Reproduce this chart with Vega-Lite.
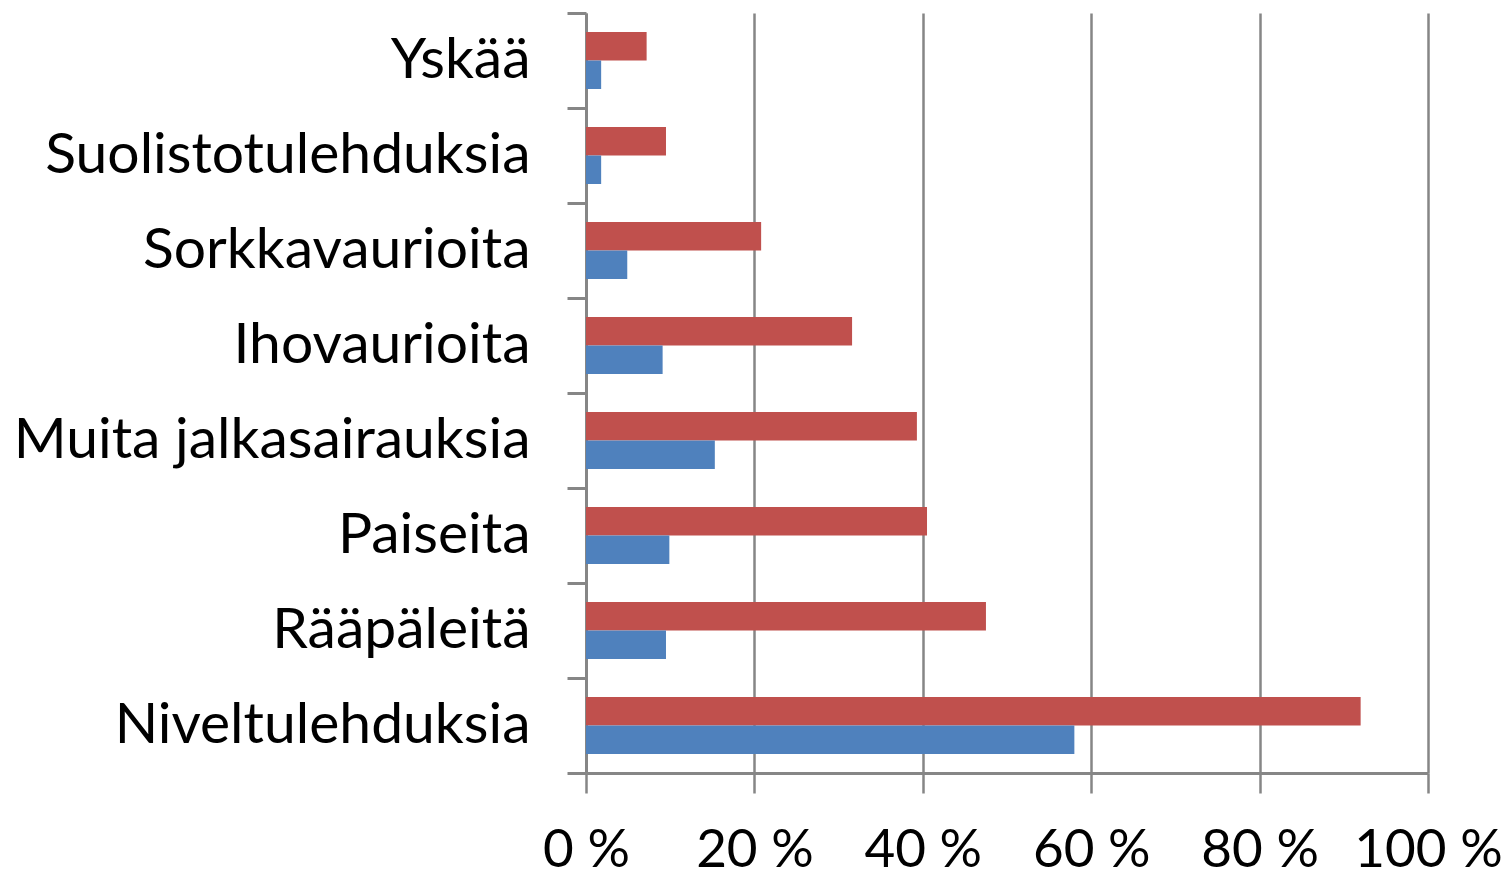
{
  "$schema": "https://vega.github.io/schema/vega-lite/v6.json",
  "width": 842,
  "height": 760,
  "autosize": {"type": "none"},
  "padding": {"left": 586, "top": 13, "right": 80, "bottom": 105},
  "background": "white",
  "config": {"view": {"stroke": null}, "font": "Lato"},
  "data": {
    "values": [
      {"kategoria": "Yskää", "sarja": "sarja 1", "arvo": 7.2},
      {"kategoria": "Yskää", "sarja": "sarja 2", "arvo": 1.8},
      {"kategoria": "Suolistotulehduksia", "sarja": "sarja 1", "arvo": 9.5},
      {"kategoria": "Suolistotulehduksia", "sarja": "sarja 2", "arvo": 1.8},
      {"kategoria": "Sorkkavaurioita", "sarja": "sarja 1", "arvo": 20.8},
      {"kategoria": "Sorkkavaurioita", "sarja": "sarja 2", "arvo": 4.9},
      {"kategoria": "Ihovaurioita", "sarja": "sarja 1", "arvo": 31.6},
      {"kategoria": "Ihovaurioita", "sarja": "sarja 2", "arvo": 9.1},
      {"kategoria": "Muita jalkasairauksia", "sarja": "sarja 1", "arvo": 39.3},
      {"kategoria": "Muita jalkasairauksia", "sarja": "sarja 2", "arvo": 15.3},
      {"kategoria": "Paiseita", "sarja": "sarja 1", "arvo": 40.5},
      {"kategoria": "Paiseita", "sarja": "sarja 2", "arvo": 9.9},
      {"kategoria": "Rääpäleitä", "sarja": "sarja 1", "arvo": 47.5},
      {"kategoria": "Rääpäleitä", "sarja": "sarja 2", "arvo": 9.5},
      {"kategoria": "Niveltulehduksia", "sarja": "sarja 1", "arvo": 92.0},
      {"kategoria": "Niveltulehduksia", "sarja": "sarja 2", "arvo": 58.0}
    ]
  },
  "mark": {"type": "bar"},
  "encoding": {
    "y": {
      "field": "kategoria",
      "type": "nominal",
      "sort": ["Yskää", "Suolistotulehduksia", "Sorkkavaurioita", "Ihovaurioita", "Muita jalkasairauksia", "Paiseita", "Rääpäleitä", "Niveltulehduksia"],
      "scale": {"paddingInner": 0, "paddingOuter": 0},
      "axis": {
        "title": null,
        "tickBand": "extent",
        "grid": false,
        "domainColor": "#868686",
        "domainWidth": 3,
        "tickColor": "#868686",
        "tickWidth": 3,
        "tickSize": 19,
        "labelFontSize": 57,
        "labelPadding": 37,
        "labelColor": "black",
        "labelLimit": 0
      }
    },
    "yOffset": {
      "field": "sarja",
      "sort": ["sarja 1", "sarja 2"],
      "scale": {"paddingInner": 0, "paddingOuter": 0.6667}
    },
    "x": {
      "field": "arvo",
      "type": "quantitative",
      "scale": {"domain": [0, 100]},
      "axis": {
        "title": null,
        "values": [0, 20, 40, 60, 80, 100],
        "labelExpr": "datum.value + ' %'",
        "grid": true,
        "gridColor": "#868686",
        "gridWidth": 2.5,
        "domainColor": "#868686",
        "domainWidth": 3,
        "tickColor": "#868686",
        "tickWidth": 2.5,
        "tickSize": 20,
        "labelFontSize": 53,
        "labelPadding": 31,
        "labelColor": "black",
        "labelFlush": false,
        "labelOverlap": false
      }
    },
    "color": {
      "field": "sarja",
      "type": "nominal",
      "scale": {"domain": ["sarja 1", "sarja 2"], "range": ["#C0504D", "#4F81BD"]},
      "legend": null
    }
  }
}
